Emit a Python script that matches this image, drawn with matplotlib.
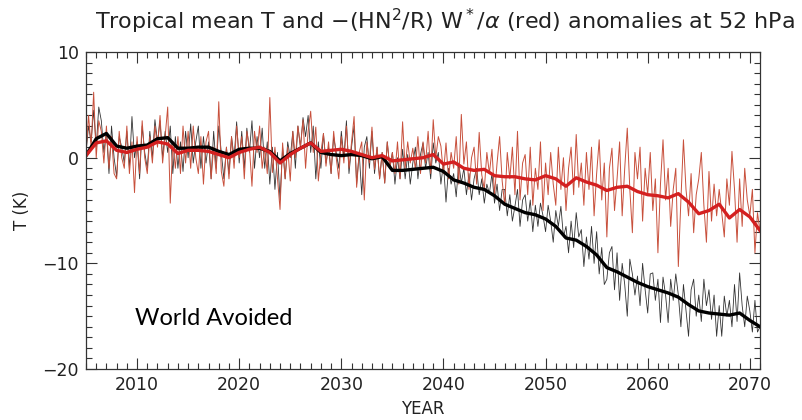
import numpy as np
import matplotlib.pyplot as plt
from matplotlib.ticker import MultipleLocator

# time axes: thin series every quarter, smoothed series yearly
years_q = 2005 + np.arange(265) / 4.0
years = np.arange(2005, 2072)

# thin black: tropical mean T anomaly (K), 4 values per year
t_thin = [
    0.5, 3.0, 1.5, 4.5,   1.0, 4.8, 3.5, 0.5,   2.5, -1.5, 3.0, 0.0,   -1.8, 2.0, 1.0, -0.5,
    2.5, -1.0, 3.9, 0.0,  1.5, -2.0, 3.0, 0.5,  -1.0, 2.5, 0.0, 3.6,   1.5, 3.5, 0.0, 2.5,
    0.5, 3.0, -1.5, 2.0,  -1.0, 1.5, -1.3, 2.5, 0.0, 3.2, -0.5, 1.5,   3.0, -1.0, 2.0, -0.5,
    1.5, -2.0, 2.5, -1.0, 3.0, 0.5, -2.0, 1.0,  -1.5, 2.0, 0.0, 3.4,   -0.5, 2.5, -1.0, 2.8,
    0.5, 3.5, -1.0, 2.0,  0.0, 2.8, -1.0, 1.5,  -2.5, 1.0, -3.0, 0.5,  -4.0, 1.0, -2.0, 1.5,
    0.0, 2.5, -1.0, 3.0,  1.0, 3.8, 2.0, 4.0,   0.5, 3.0, -2.0, 1.5,   -1.0, 2.3, -0.5, 1.0,
    -1.5, 2.0, 0.5, -1.0, 2.5, 0.0, 3.5, -1.5,  1.0, 3.0, -2.5, 0.5,   -3.5, 1.0, 2.0, -1.0,
    2.5, -1.5, 1.0, -2.0, 0.5, -2.4, 1.5, -1.0,
    0.5, -2.5, 0.0, -2.0, 0.8, -2.0, 0.3, -2.5, -0.5, 1.0, -2.0, 0.3,  1.4, -1.0, 0.5, -2.0,
    1.4, -0.5, 0.5, -2.5, -0.5, -4.2, -1.0, -2.5, -1.5, -3.7, -0.5, -2.4, -1.0, -3.5, -1.5, -4.0,
    -2.0, -1.0, -3.5, -2.0, -4.3, -2.5, -3.4, -1.5, -4.3, -2.5, -5.0, -3.0, -3.0, -5.5, -3.5, -6.0,
    -4.6, -3.0, -6.5, -4.0, -3.5, -6.0, -4.0, -7.0, -4.5, -6.5, -4.3, -5.5, -7.0, -4.5, -6.0, -8.0,
    -5.0, -6.5, -4.6, -7.5, -6.5, -9.0, -6.0, -8.5, -5.2, -7.5, -6.8, -10.3, -7.5, -9.6, -6.5, -10.0,
    -7.0, -11.0, -8.5, -12.0, -11.5, -9.0, -8.4, -12.5, -9.0, -13.5, -10.0, -12.0,
    -15.0, -9.6, -11.0, -13.0, -11.2, -14.0, -10.0, -12.5, -14.7, -11.0, -10.9, -13.5,
    -11.5, -15.6, -11.3, -13.0, -15.6, -11.5, -13.5, -11.0, -13.0, -16.0, -12.0, -14.5,
    -16.9, -12.5, -11.5, -15.0, -13.0, -15.5, -11.5, -14.0, -12.5, -15.3, -13.0, -16.9,
    -14.0, -16.9, -13.1, -15.0, -13.5, -16.0, -12.0, -15.5, -10.9, -14.0, -16.0, -13.1,
    -14.5, -16.5, -13.5, -16.5, -16.0,
]

# thin red: -(HN^2/R) W*/alpha anomaly (K), 4 values per year
w_thin = [
    0.5, 4.0, 1.0, 6.2,   0.0, 3.5, 2.5, -0.5,  3.0, -1.0, 2.0, -1.5,  -2.0, 2.5, 0.0, -1.0,
    3.0, -1.5, 1.5, -3.3, 2.0, -1.5, 3.5, 0.0,  -1.5, 2.0, -0.5, 3.0,  1.0, 4.0, -0.5, 2.0,
    4.8, -4.3, 1.5, -1.0, 2.0, -1.5, 3.0, -0.5, 2.5, -1.0, 3.0, 0.0,   -1.5, 2.0, -2.5, 1.5,
    2.5, -2.0, 1.0, -1.5, 5.3, -1.3, -2.7, 1.0, -2.0, 2.0, -1.0, 3.0,  0.0, 2.0, -2.0, 2.5,
    1.0, -2.7, 2.5, 0.5,  3.0, -1.0, 1.0, -1.5, 5.7, -1.4, 1.0, -2.0,  -4.9, 1.4, -2.0, 1.0,
    -2.2, 2.5, 0.0, 3.0,  1.0, 3.6, -1.0, 2.5,  4.4, 0.5, 2.9, -2.2,   0.5, 2.3, -0.8, 1.5,
    -1.5, 2.5, 0.0, -2.0, 2.0, -0.5, 3.0, -1.0, 1.5, 3.9, -2.8, 0.5,   1.5, -4.0, 1.5, -0.5,
    2.9, -1.1, 1.0, -2.0, 0.5, -2.4, 1.5, -1.0,
    0.5, -1.5, 1.5, -2.0, 3.4, -1.0, 1.5, -0.5, 0.9, -1.1, 2.0, -1.5,  1.5, -0.5, 2.5, -1.5,
    3.6, 0.0, 2.0, 1.1,   -1.5, 1.4, -2.0, 0.5, -1.0, 2.0, -2.5, 4.1,  -0.6, 1.5, -3.0, 0.0,
    1.0, -2.5, 2.4, -1.6, -3.0, 0.5, -1.5, 0.8, -3.5, -0.5, 2.0, -2.2, -4.5, 0.5, -2.0, 1.0,
    -3.5, 2.5, -4.0, -0.5, 0.3, -3.5, 1.0, -4.5, -1.0, -3.0, 1.5, -5.0, -0.5, -3.5, 0.5, -2.5,
    -4.5, 1.0, -3.0, 0.0, -5.0, -1.0, 1.0, -3.5, 2.2, -2.8, -0.5, -4.5, 0.5, -3.0, 1.0, -5.5,
    -1.5, 1.7, -4.0, -0.5, -7.5, -1.0, 0.9, -5.0, -2.0, 1.5, -5.5, -1.0,
    2.8, -3.0, -7.1, 0.5, -2.0, 1.0, -6.0, -1.0, -3.5, 0.5, -5.0, -2.0,
    -9.0, -2.5, 1.7, -4.0, -1.0, -6.5, -3.0, -1.0, -10.3, -4.0, 1.7, -3.0,
    -5.5, -1.5, -7.1, -3.5, -2.0, 0.5, -4.5, -8.0, -1.3, -6.0, -2.5, -5.5,
    -3.0, -5.2, -7.5, -2.0, -4.5, 0.6, -3.0, -8.0, -2.0, -6.5, -1.0, -4.0,
    -5.5, -3.0, -9.0, -5.2, -7.0,
]

# smoothed series, yearly 2005..2071
t_smooth = [
    0.2, 1.8, 2.3, 1.1, 0.9, 1.1, 1.2, 1.8, 1.9, 0.9,
    0.9, 1.0, 1.0, 0.6, 0.3, 0.8, 0.9, 0.9, 0.6, -0.3,
    0.4, 0.9, 1.4, 0.5, 0.3, 0.2, 0.3, 0.2, -0.1, 0.1,
    -1.2, -1.2, -1.1, -1.0, -0.9, -1.3, -2.1, -2.4, -2.8, -3.0,
    -3.6, -4.4, -4.8, -5.2, -5.4, -5.8, -6.5, -7.6, -7.8, -8.4,
    -9.2, -10.4, -10.8, -11.3, -11.8, -12.2, -12.5, -12.8, -13.2, -13.9,
    -14.5, -14.7, -14.8, -14.9, -14.7, -15.4, -16.0,
]
w_smooth = [
    0.2, 1.4, 1.6, 0.7, 0.5, 0.8, 1.0, 1.5, 1.3, 0.4,
    0.7, 0.7, 0.6, 0.3, 0.0, 0.5, 0.8, 1.0, 0.5, -0.5,
    0.3, 0.9, 1.4, 0.6, 0.7, 0.8, 0.6, 0.3, 0.0, 0.2,
    -0.3, -0.2, -0.1, 0.0, 0.3, -0.6, -0.4, -1.0, -1.2, -1.1,
    -1.7, -1.8, -1.8, -2.0, -2.1, -1.7, -2.0, -2.7, -1.9, -2.3,
    -2.6, -3.1, -2.8, -2.7, -3.2, -3.5, -3.6, -3.8, -3.4, -4.2,
    -5.3, -5.0, -4.4, -5.7, -4.9, -5.6, -6.9,
]

fig = plt.figure(figsize=(8.03, 4.2), dpi=100)
ax = fig.add_axes([0.1071, 0.1214, 0.8394, 0.7546])

ax.plot(years_q, t_thin, color='#333333', lw=0.6)
ax.plot(years_q, w_thin, color='#c8503c', lw=0.7)
ax.plot(years, t_smooth, color='black', lw=2.4)
ax.plot(years, w_smooth, color='#d42020', lw=2.4)

ax.set_xlim(2005, 2071)
ax.set_ylim(-20, 10)
ax.xaxis.set_major_locator(MultipleLocator(10))
ax.xaxis.set_minor_locator(MultipleLocator(1))
ax.yaxis.set_major_locator(MultipleLocator(10))
ax.yaxis.set_minor_locator(MultipleLocator(1))
ax.tick_params(which='both', direction='in', top=True, right=True, colors='#333333',
               labelcolor='#222222', labelsize=12.5, width=0.8)
ax.tick_params(which='major', length=8, pad=5)
ax.tick_params(which='minor', length=4)
for s in ax.spines.values():
    s.set_color('#333333')
    s.set_linewidth(0.9)

ax.set_xlabel('YEAR', fontsize=12, color='#222222', labelpad=4)
ax.set_ylabel('T (K)', fontsize=12, color='#222222', labelpad=8)

ax.text(2009.8, -15.2, 'World Avoided', family='Lato', fontsize=17, va='center', ha='left')

fig.text(0.118, 0.948, r'Tropical mean T and $-$(HN$^2$/R) W$^*$/$\alpha$ (red) anomalies at 52 hPa',
         fontsize=16, color='#222222', va='center', ha='left')

fig.savefig('out.png', dpi=100)
